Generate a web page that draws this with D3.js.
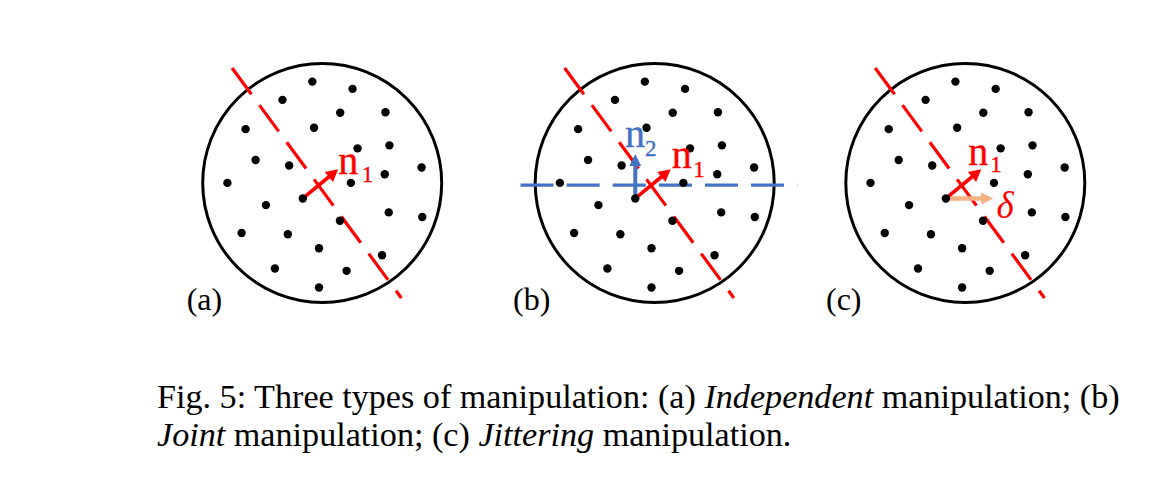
<!DOCTYPE html>
<html><head><meta charset="utf-8">
<script src="https://cdn.jsdelivr.net/npm/d3@7"></script>
<style>html,body{margin:0;padding:0;background:#fff;} svg{display:block}</style>
</head><body>
<svg id="chart" width="1174" height="486"></svg>
<script>
// ---- data ----
const panelLabels = ["(a)", "(b)", "(c)"];
const dotX = [-9.9, 30.5, -39.9, 18.1, 63.5, -76.9, -8.2, 35.5, 67.5, -66.9, -33.2, 99.8, 62.8, 28.8, -95.2, -19.5, -56.5, 66.8, 100.5, 17.8, -80.9, -34.5, -3.2, 60.1, -47.5, 24.5, -3.2];
const dotY = [-101.8, -94.5, -83.5, -70.5, -71.1, -54.1, -55.5, -34.8, -37.8, -23.1, -17.5, -15.5, -8.8, -0.1, -0.1, 15.5, 22.2, 29.5, 34.2, 37.9, 50.2, 51.5, 65.5, 72.5, 85.9, 88.2, 104.9];
const planeRedX = [-90.5, 79.5];
const planeRedY = [-115.5, 115.5];
const planeBlueX = [-134.7, 143.3];
const planeBlueY = [2.2, 2.2];
const anchorXY = [-19.5, 15.5];
const normal1 = [35.5, -29.3];
const normal2 = [0, -44.5];
const jitter = [47.5, 0];
const captionLine1 = [["Fig. 5: Three types of manipulation: (a) ", "normal"], ["Independent", "italic"], [" manipulation; (b)", "normal"]];
const captionLine2 = [["Joint", "italic"], [" manipulation; (c) ", "normal"], ["Jittering", "italic"], [" manipulation.", "normal"]];

// ---- layout ----
const RED = "#ff0000", BLUE = "#4472c4", ORANGE = "#f4b183";
const serif = "'Liberation Serif','Times New Roman',serif";
const svg = d3.select("#chart");
const panels = [
  {label: panelLabels[0], cx: 322.2, cy: 183, lx: 186.7, n1: [16.1, -9.5], n1sub: [23.4, 8.4]},
  {label: panelLabels[1], cx: 654.7, cy: 183, lx: 513, n1: [17, -14.7], n1sub: [21.6, 8.4], blue: true, n2: [-29.7, -36.3]},
  {label: panelLabels[2], cx: 965.3, cy: 183, lx: 826, n1: [3, -18], n1sub: [22, 6.7], jit: true, delta: [31.4, 35.5]}
];
const R = 119.5;

function arrow(g, x1, y1, x2, y2, color, sw, hl, hw) {
  const dx = x2 - x1, dy = y2 - y1, L = Math.hypot(dx, dy);
  const ux = dx / L, uy = dy / L, px = -uy, py = ux;
  const bx = x2 - ux * hl, by = y2 - uy * hl;
  g.append("line").attr("x1", x1).attr("y1", y1).attr("x2", bx + ux * 1).attr("y2", by + uy * 1)
    .attr("stroke", color).attr("stroke-width", sw);
  g.append("path").attr("d", `M${x2},${y2}L${bx + px * hw},${by + py * hw}L${bx - px * hw},${by - py * hw}Z`)
    .attr("fill", color);
}

panels.forEach(p => {
  const x = d3.scaleLinear().domain([-120, 120]).range([p.cx - R, p.cx + R]);
  const y = d3.scaleLinear().domain([-120, 120]).range([p.cy - R, p.cy + R]);
  const g = svg.append("g");
  g.append("circle").attr("cx", x(0)).attr("cy", y(0)).attr("r", x(120) - x(0))
    .attr("fill", "none").attr("stroke", "#000").attr("stroke-width", 3);
  g.append("line").attr("x1", x(planeRedX[0])).attr("y1", y(planeRedY[0]))
    .attr("x2", x(planeRedX[1])).attr("y2", y(planeRedY[1]))
    .attr("stroke", RED).attr("stroke-width", 3.2).attr("stroke-dasharray", "32.6,13.5");
  if (p.blue) {
    g.append("line").attr("x1", x(planeBlueX[0])).attr("y1", y(planeBlueY[0]))
      .attr("x2", x(planeBlueX[1])).attr("y2", y(planeBlueY[1]))
      .attr("stroke", BLUE).attr("stroke-width", 3.2).attr("stroke-dasharray", "33,13.1");
  }
  const ax = x(anchorXY[0]), ay = y(anchorXY[1]);
  if (p.jit) {
    arrow(g, ax, ay, x(anchorXY[0] + jitter[0]), y(anchorXY[1] + jitter[1]), ORANGE, 4.5, 12, 6);
  }
  if (p.blue) {
    arrow(g, ax, ay, x(anchorXY[0] + normal2[0]), y(anchorXY[1] + normal2[1]), BLUE, 4, 12, 6);
  }
  arrow(g, ax, ay, x(anchorXY[0] + normal1[0]), y(anchorXY[1] + normal1[1]), RED, 3.6, 12, 6.5);
  g.selectAll("circle.dot").data(dotX.map((d, i) => [d, dotY[i]])).join("circle")
    .attr("class", "dot").attr("cx", d => x(d[0])).attr("cy", d => y(d[1])).attr("r", 4.2).attr("fill", "#000");
  function nlabel(pos, sub, color, subOff) {
    const t = g.append("text").attr("x", x(pos[0])).attr("y", y(pos[1]))
      .attr("font-family", serif).attr("fill", color)
      .attr("stroke", color).attr("stroke-width", 0.35);
    t.append("tspan").attr("font-size", 40).text("n");
    t.append("tspan").attr("font-size", 23).attr("dx", subOff[0] - 20).attr("dy", subOff[1]).text(sub);
  }
  nlabel(p.n1, "1", RED, p.n1sub);
  if (p.blue) nlabel(p.n2, "2", BLUE, [20, 9]);
  if (p.jit) {
    g.append("text").attr("x", x(p.delta[0])).attr("y", y(p.delta[1]))
      .attr("font-family", serif).attr("font-style", "italic").attr("font-size", 37)
      .attr("fill", RED).text("δ");
  }
  g.append("text").attr("x", p.lx).attr("y", 310).attr("font-family", serif)
    .attr("font-size", 32).attr("fill", "#000").text(p.label);
});

function captionLine(parts, yb) {
  const t = svg.append("text").attr("x", 157).attr("y", yb).attr("font-family", serif)
    .attr("font-size", 30).attr("fill", "#000");
  parts.forEach(([s, st]) => t.append("tspan").attr("font-style", st).text(s));
  return t;
}
const c1 = captionLine(captionLine1, 408);
const w1 = c1.node().getComputedTextLength();
const fs = 30 * 963 / w1;
c1.attr("font-size", fs);
const c2 = captionLine(captionLine2, 446);
c2.attr("font-size", fs);
</script>
</body></html>
